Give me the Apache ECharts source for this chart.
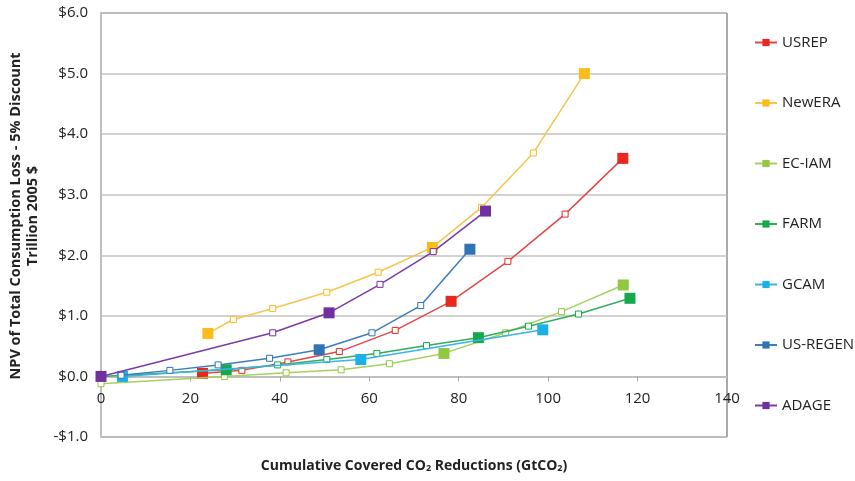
<!DOCTYPE html>
<html>
<head>
<meta charset="utf-8">
<script src="https://cdn.jsdelivr.net/npm/echarts@6/dist/echarts.min.js"></script>
<style>
  html, body { margin: 0; padding: 0; background: #fff; }
  #chart { width: 855px; height: 481px; }
</style>
</head>
<body>
<div id="chart"></div>
<script>
// Cumulative covered CO2 reductions (GtCO2) vs. NPV of consumption loss (trillion 2005 $)
const seriesNames = ['USREP', 'NewERA', 'EC-IAM', 'FARM', 'GCAM', 'US-REGEN', 'ADAGE'];
const seriesColors = ['#e8281f', '#fbbb1b', '#92c741', '#16a84c', '#1db0e6', '#2f74b5', '#7030a0'];
const lineColors   = ['#e2474a', '#f7c54a', '#a6d160', '#2fae5e', '#3ab4e4', '#3c7dbe', '#7a3aa8'];

const usrepX = [22.7, 31.5, 41.8, 53.3, 65.8, 78.3, 91.0, 103.8, 116.7];
const usrepY = [0.05, 0.10, 0.24, 0.41, 0.76, 1.24, 1.90, 2.68, 3.60];
const usrepFilled = [0, 5, 8];

const newEraX = [23.9, 29.6, 38.4, 50.5, 62.0, 74.1, 85.1, 96.7, 108.1];
const newEraY = [0.71, 0.94, 1.12, 1.39, 1.72, 2.13, 2.79, 3.69, 5.00];
const newEraFilled = [0, 5, 8];

const ecIamX = [0, 27.6, 41.4, 53.7, 64.5, 76.7, 90.5, 103.0, 116.8];
const ecIamY = [-0.12, 0.00, 0.06, 0.11, 0.21, 0.38, 0.72, 1.07, 1.51];
const ecIamFilled = [5, 8];

const farmX = [0, 28.0, 39.5, 50.5, 61.7, 72.8, 84.4, 95.6, 106.8, 118.3];
const farmY = [0, 0.11, 0.19, 0.28, 0.38, 0.51, 0.64, 0.83, 1.03, 1.29];
const farmFilled = [1, 6, 9];

const gcamX = [4.8, 58.1, 98.8];
const gcamY = [0.00, 0.28, 0.77];
const gcamFilled = [0, 1, 2];

const usRegenX = [4.5, 15.4, 26.2, 37.7, 48.8, 60.6, 71.5, 82.5];
const usRegenY = [0.02, 0.10, 0.19, 0.30, 0.44, 0.72, 1.17, 2.10];
const usRegenFilled = [4, 7];

const adageX = [0, 38.4, 51.0, 62.4, 74.3, 86.0];
const adageY = [0, 0.72, 1.05, 1.52, 2.06, 2.73];
const adageFilled = [0, 2, 5];

const xTicks = { min: 0, max: 140, step: 20 };
const yTicks = { min: -1, max: 6, step: 1 };

const seriesSets = [
  [usrepX, usrepY, usrepFilled],
  [newEraX, newEraY, newEraFilled],
  [ecIamX, ecIamY, ecIamFilled],
  [farmX, farmY, farmFilled],
  [gcamX, gcamY, gcamFilled],
  [usRegenX, usRegenY, usRegenFilled],
  [adageX, adageY, adageFilled]
];

const FONT = '"Open Sans", "Noto Sans", sans-serif';

// plot box
const PLOT = { left: 101, right: 128, top: 13, bottom: 44 };
const plotHeight = 481 - PLOT.top - PLOT.bottom;
// distance of the y = 0 line from the bottom of the chart, so the category axis can sit on it
const zeroFromBottom = PLOT.bottom + plotHeight * (0 - yTicks.min) / (yTicks.max - yTicks.min);

function buildPoints(xs, ys, filled, color) {
  return xs.map(function (x, i) {
    if (filled.indexOf(i) >= 0) {
      return { value: [x, ys[i]], symbolSize: 11, itemStyle: { color: color, borderColor: color, borderWidth: 0 } };
    }
    return { value: [x, ys[i]], symbolSize: 6, itemStyle: { color: '#ffffff', borderColor: color, borderWidth: 1 } };
  });
}

const series = seriesNames.map(function (name, k) {
  const set = seriesSets[k];
  return {
    name: name,
    type: 'line',
    xAxisIndex: 0,
    yAxisIndex: 0,
    symbol: 'rect',
    symbolSize: 8,
    showAllSymbol: true,
    itemStyle: { color: seriesColors[k] },
    lineStyle: { color: lineColors[k], width: 1.5 },
    emphasis: { disabled: true },
    animation: false,
    z: 2 + k,
    data: buildPoints(set[0], set[1], set[2], seriesColors[k])
  };
});

const chart = echarts.init(document.getElementById('chart'), null, { renderer: 'canvas' });
chart.setOption({
  backgroundColor: '#ffffff',
  animation: false,
  grid: [
    {
      left: PLOT.left, right: PLOT.right, top: PLOT.top, bottom: PLOT.bottom,
      outerBoundsMode: 'none', containLabel: false,
      show: true, borderColor: '#555555', borderWidth: 1, backgroundColor: 'transparent'
    },
    {
      // same horizontal span, bottom edge on the zero line: carries the visible x axis
      left: PLOT.left, right: PLOT.right, top: PLOT.top, bottom: zeroFromBottom,
      outerBoundsMode: 'none', containLabel: false, show: false
    }
  ],
  legend: {
    orient: 'vertical',
    left: 749,
    top: 30,
    itemGap: 45.5,
    itemWidth: 22,
    itemHeight: 9,
    textStyle: { fontFamily: FONT, fontSize: 15, color: '#222' },
    data: seriesNames
  },
  xAxis: [
    {
      type: 'value', gridIndex: 0,
      min: xTicks.min, max: xTicks.max, interval: xTicks.step,
      axisLine: { show: false }, axisTick: { show: false }, axisLabel: { show: false },
      splitLine: { show: false }
    },
    {
      type: 'value', gridIndex: 1,
      min: xTicks.min, max: xTicks.max, interval: xTicks.step,
      axisLine: { show: true, onZero: false, lineStyle: { color: '#bfbfbf', width: 2 } },
      axisTick: { show: true, length: 5, lineStyle: { color: '#a6a6a6', width: 1 } },
      axisLabel: { fontFamily: FONT, fontSize: 15, color: '#222', margin: 15 },
      splitLine: { show: false },
      name: 'Cumulative Covered CO{s|2} Reductions (GtCO{s|2})',
      nameLocation: 'middle',
      nameGap: 82,
      nameTextStyle: {
        fontFamily: FONT, fontSize: 14, fontWeight: 'bold', color: '#222',
        rich: { s: { fontFamily: FONT, fontSize: 9, fontWeight: 'bold', color: '#222', verticalAlign: 'bottom', padding: [6, 0, 0, 0] } }
      }
    }
  ],
  yAxis: [
    {
      type: 'value', gridIndex: 0,
      min: yTicks.min, max: yTicks.max, interval: yTicks.step,
      axisLine: { show: true, onZero: false, lineStyle: { color: '#bfbfbf', width: 2 } },
      axisTick: { show: false },
      axisLabel: {
        fontFamily: FONT, fontSize: 15, color: '#222', margin: 13,
        formatter: function (v) { return (v < 0 ? '-$' : '$') + Math.abs(v).toFixed(1); }
      },
      splitLine: { show: true, lineStyle: { color: '#c3c3c3', width: 1.5 } },
      name: 'NPV of Total Consumption Loss - 5% Discount\nTrillion 2005 $',
      nameLocation: 'middle',
      nameRotate: 90,
      nameGap: 60,
      nameTextStyle: {
        fontFamily: FONT, fontSize: 14.5, fontWeight: 'bold', color: '#222',
        lineHeight: 17, align: 'center', padding: [0, 0, 0, 18]
      }
    },
    {
      type: 'value', gridIndex: 1, min: 0, max: 1, show: false
    }
  ],
  series: series
});
</script>
</body>
</html>
